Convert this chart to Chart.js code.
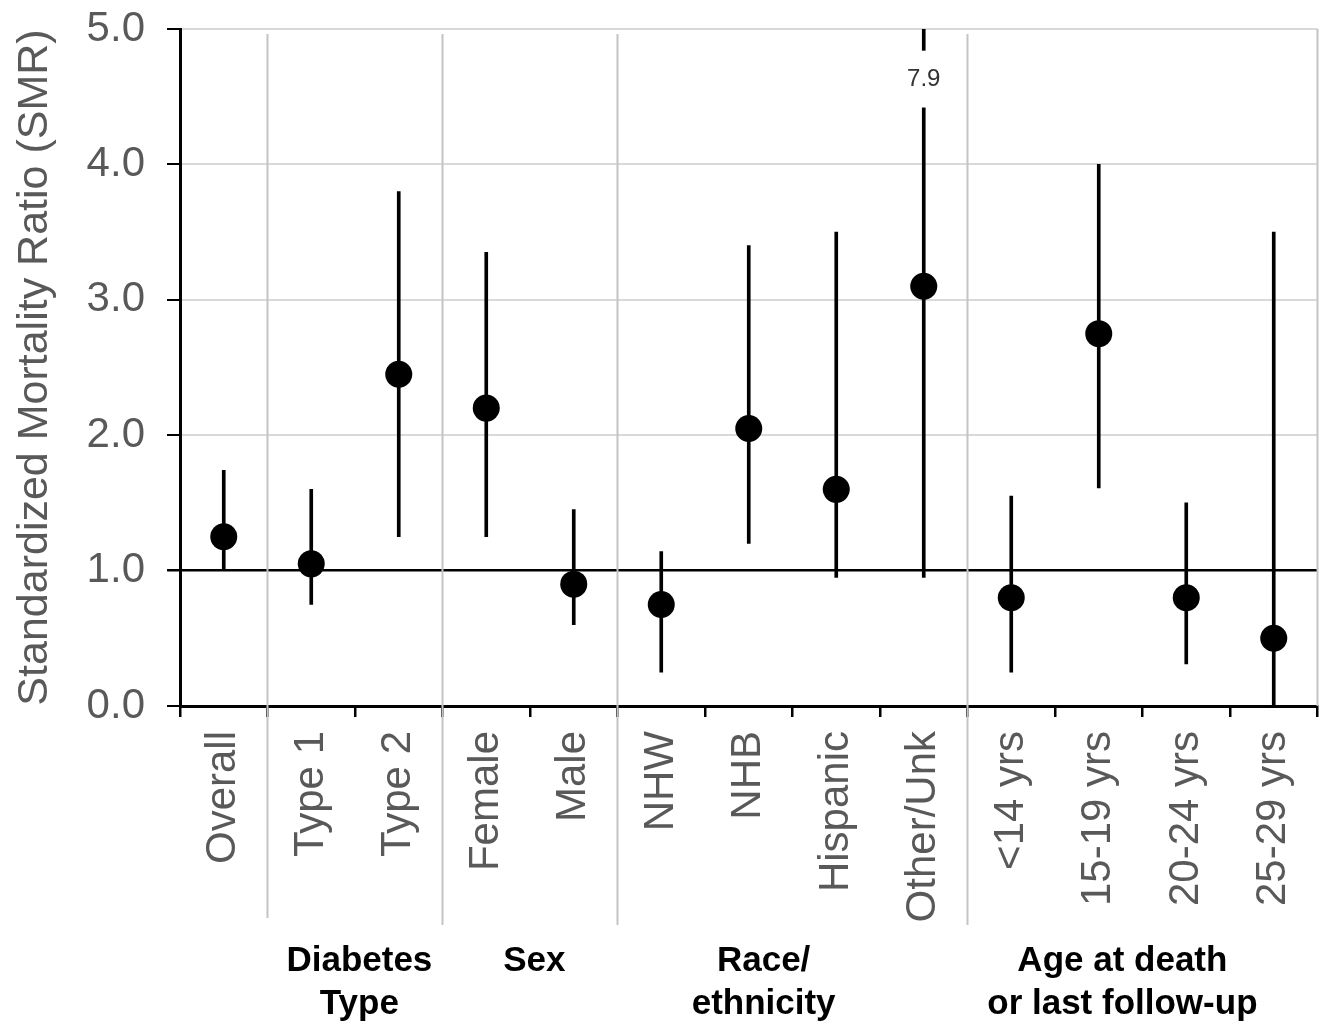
<!DOCTYPE html>
<html>
<head>
<meta charset="utf-8">
<script src="https://cdn.jsdelivr.net/npm/chart.js@4.4.1/dist/chart.umd.min.js"></script>
<style>
  html, body { margin: 0; padding: 0; background: #ffffff; }
  canvas { display: block; }
</style>
</head>
<body>
<canvas id="c" width="1331" height="1025"></canvas>
<script>
// ---- data ----
const categories = ["Overall", "Type 1", "Type 2", "Female", "Male", "NHW", "NHB", "Hispanic", "Other/Unk", "<14 yrs", "15-19 yrs", "20-24 yrs", "25-29 yrs"];
const smr      = [1.25, 1.05, 2.45, 2.20, 0.90, 0.75, 2.05, 1.60, 3.10, 0.80, 2.75, 0.80, 0.50];
const ciLower  = [1.01, 0.75, 1.25, 1.25, 0.60, 0.25, 1.20, 0.95, 0.95, 0.25, 1.61, 0.31, 0.00];
const ciUpper  = [1.74, 1.60, 3.80, 3.35, 1.45, 1.14, 3.40, 3.50, 7.90, 1.55, 4.00, 1.50, 3.50];
const yTicks   = [0, 1, 2, 3, 4, 5];
const referenceLine = 1.0;
// group labels: text lines and position (in category-index units)
const groupLabels = [["Diabetes", "Type"], ["Sex"], ["Race/", "ethnicity"], ["Age at death", "or last follow-up"]];
const groupPos    = [1.55, 3.55, 6.17, 10.27];
// separators drawn after these category indices
const separatorsAfter = [0, 2, 4, 8];
// clipped upper bound annotation
const clippedIndex = 8;
const clippedLabel = "7.9";
const clippedLabelValue = 4.63;
const clippedGapHalf = 0.21;

const GRAY_TEXT = "#595959";
const GRID = "#d9d9d9";
const SEP = "#c4c4c4";

const ciData = ciLower.map((lo, i) => [lo, ciUpper[i]]);

function noAutoPadding(scale) {
  scale.paddingTop = 0;
  scale.paddingBottom = 0;
  scale.paddingLeft = 0;
  scale.paddingRight = 0;
}

const decorPlugin = {
  id: "decor",
  beforeDatasetsDraw(chart) {
    const { ctx, chartArea, scales: { x } } = chart;
    ctx.save();
    ctx.strokeStyle = SEP;
    ctx.lineWidth = 2;
    separatorsAfter.forEach((idx, k) => {
      const px = (x.getPixelForValue(idx) + x.getPixelForValue(idx + 1)) / 2;
      const bottom = chartArea.bottom + (k === 0 ? 212 : 219);
      ctx.beginPath();
      ctx.moveTo(px, chartArea.top + 5);
      ctx.lineTo(px, bottom);
      ctx.stroke();
    });
    // right border
    ctx.beginPath();
    ctx.moveTo(chartArea.right, chartArea.top);
    ctx.lineTo(chartArea.right, chartArea.bottom);
    ctx.stroke();
    ctx.restore();
  },
  afterDatasetsDraw(chart) {
    const { ctx, scales: { x, y } } = chart;
    ctx.save();
    const cx = x.getPixelForValue(clippedIndex);
    const yTop = y.getPixelForValue(clippedLabelValue + clippedGapHalf);
    const yBot = y.getPixelForValue(clippedLabelValue - clippedGapHalf);
    ctx.fillStyle = "#ffffff";
    ctx.fillRect(cx - 8, yTop, 16, yBot - yTop);
    ctx.fillStyle = "#333333";
    ctx.font = "24px 'Liberation Sans', Arial, sans-serif";
    ctx.textAlign = "center";
    ctx.textBaseline = "middle";
    ctx.fillText(clippedLabel, cx, y.getPixelForValue(clippedLabelValue));
    // group labels
    ctx.fillStyle = "#000000";
    ctx.font = "bold 35px 'Liberation Sans', Arial, sans-serif";
    const step = x.getPixelForValue(1) - x.getPixelForValue(0);
    groupLabels.forEach((lines, g) => {
      const gx = x.getPixelForValue(0) + groupPos[g] * step;
      lines.forEach((t, li) => {
        ctx.fillText(t, gx, chart.chartArea.bottom + 255 + li * 43);
      });
    });
    ctx.restore();
  }
};

new Chart(document.getElementById("c"), {
  data: {
    labels: categories,
    datasets: [
      {
        type: "line",
        label: "SMR",
        data: smr,
        showLine: false,
        pointRadius: 13.5,
        pointHoverRadius: 13.5,
        pointBackgroundColor: "#000000",
        pointBorderWidth: 0,
        borderColor: "#000000"
      },
      {
        type: "bar",
        label: "95% CI",
        data: ciData,
        backgroundColor: "#000000",
        barThickness: 3,
        borderSkipped: false
      }
    ]
  },
  plugins: [decorPlugin],
  options: {
    responsive: false,
    animation: false,
    events: [],
    layout: { padding: { top: 29, right: 11, left: 0, bottom: 0 } },
    plugins: { legend: { display: false }, tooltip: { enabled: false } },
    scales: {
      x: {
        type: "category",
        offset: true,
        afterFit(scale) { scale.height = 319; noAutoPadding(scale); },
        grid: {
          offset: true,
          drawOnChartArea: false,
          color: "#000000",
          tickColor: "#000000",
          tickLength: 11,
          lineWidth: 2.5
        },
        border: { color: "#000000", width: 3 },
        ticks: {
          autoSkip: false,
          minRotation: 90,
          maxRotation: 90,
          padding: 14,
          color: GRAY_TEXT,
          font: { family: "'Liberation Sans', Arial, sans-serif", size: 42 }
        }
      },
      y: {
        min: 0,
        max: 5,
        afterFit(scale) { scale.width = 180; noAutoPadding(scale); },
        afterBuildTicks(scale) { scale.ticks = yTicks.map(v => ({ value: v })); },
        grid: {
          color: ctx => (ctx.tick && ctx.tick.value === referenceLine) ? "#000000" : GRID,
          lineWidth: ctx => (ctx.tick && ctx.tick.value === referenceLine) ? 2.5 : 2,
          tickColor: "#000000",
          tickLength: 13
        },
        border: { color: "#000000", width: 3 },
        ticks: {
          padding: 22,
          color: GRAY_TEXT,
          font: { family: "'Liberation Sans', Arial, sans-serif", size: 42 },
          callback: v => Number(v).toFixed(1)
        },
        title: {
          display: true,
          text: "Standardized Mortality Ratio (SMR)",
          color: GRAY_TEXT,
          font: { family: "'Liberation Sans', Arial, sans-serif", size: 43 },
          padding: { top: 9, bottom: 0 }
        }
      }
    }
  }
});
</script>
</body>
</html>
